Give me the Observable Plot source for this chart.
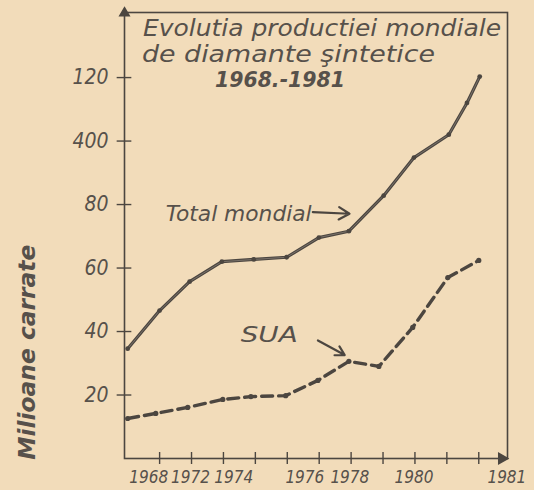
<!DOCTYPE html>
<html><head><meta charset="utf-8">
<script src="https://cdn.jsdelivr.net/npm/d3@7"></script>
<script src="https://cdn.jsdelivr.net/npm/@observablehq/plot@0.6"></script>
<style>
html,body{margin:0;padding:0;background:#f2dcba;}
#chart svg{display:block;background:#f2dcba;}
</style></head><body><div id="chart"></div>
<script>
// Positions along the hand-drawn time axis (1 unit = one tick interval)
const totalPos = [0, 1.0, 1.94, 2.95, 3.95, 4.98, 5.99, 6.93, 8.02, 8.97, 10.06, 10.63, 11.03];
const totalVal = [34.6, 46.6, 55.7, 62.0, 62.7, 63.4, 69.6, 71.6, 82.8, 94.8, 102.0, 112.0, 120.3];
const suaPos = [0, 0.88, 1.88, 2.98, 3.86, 4.95, 5.96, 6.93, 7.87, 8.93, 10.03, 11.0];
const suaVal = [12.6, 14.2, 16.1, 18.6, 19.5, 19.8, 24.6, 30.6, 29.0, 41.3, 57.0, 62.4];

const yTicks = [20, 40, 60, 80, 100, 120];
const yTickLabels = ["20", "40", "60", "80", "400", "120"];
const xTicks = [1, 2, 3, 4, 5, 6, 7, 8, 9, 10, 11];
const yearLabels = ["1968", "1972", "1974", "1976", "1978", "1980", "1981"];
const yearLabelPos = [0.66, 1.97, 3.32, 5.55, 6.96, 8.97, 11.88];

const titleLines = ["Evolutia productiei mondiale", "de diamante şintetice", "1968.-1981"];
const yLabel = "Milioane carrate";
const totalLabel = "Total mondial";
const suaLabel = "SUA";

const ink = "#4c4640";
const textInk = "#57514b";
const font = "'DejaVu Sans', sans-serif";
const condensed = "'DejaVu Sans Condensed', 'DejaVu Sans', sans-serif";

const total = totalPos.map((p, i) => ({pos: p, val: totalVal[i]}));
const sua = suaPos.map((p, i) => ({pos: p, val: suaVal[i]}));

const chart = Plot.plot({
  width: 534,
  height: 490,
  marginLeft: 124,
  marginRight: 27,
  marginTop: 12,
  marginBottom: 32,
  style: {background: "#f2dcba", fontFamily: font},
  x: {domain: [-0.1, 11.9], axis: null},
  y: {domain: [0, 140.5], axis: null},
  marks: [
    Plot.frame({stroke: ink, strokeWidth: 1.6}),
    // axis arrowheads
    Plot.dot([{pos: -0.1, val: 140.3}], {x: "pos", y: "val", symbol: "triangle2", r: 4.5, fill: ink, stroke: ink}),
    Plot.dot([{pos: 11.72, val: 0}], {x: "pos", y: "val", symbol: "triangle2", r: 5, rotate: 90, fill: ink, stroke: ink}),
    // crossing ticks
    Plot.ruleY(yTicks, {y: d => d, x1: -0.33, x2: 0.13, stroke: ink, strokeWidth: 1.4}),
    Plot.ruleX(xTicks, {x: d => d, y1: -1.9, y2: 1.9, stroke: ink, strokeWidth: 1.4}),
    // y tick labels
    Plot.axisY(yTicks, {
      tickSize: 0, tickPadding: 16, tickFormat: d => yTickLabels[yTicks.indexOf(d)],
      fontSize: 21, fontStyle: "italic", fill: textInk, label: null, fontFamily: condensed
    }),
    // x labels
    Plot.text(yearLabels, {
      x: (d, i) => yearLabelPos[i], frameAnchor: "bottom", dy: 24, text: d => d,
      fontSize: 17, fontStyle: "italic", fill: textInk, fontFamily: condensed
    }),
    // y axis label
    Plot.text([yLabel], {
      x: () => -3.13, y: () => 33.5, text: d => d, rotate: -90,
      fontSize: 23, fontStyle: "italic", fontWeight: "bold", fill: textInk, className: "ylab",
      fontFamily: condensed
    }),
    // series
    Plot.line(total, {x: "pos", y: "val", stroke: ink, strokeWidth: 3.2}),
    Plot.line(total, {x: "pos", y: "val", stroke: "#857c73", strokeWidth: 0.8}),
    Plot.dot(total, {x: "pos", y: "val", r: 2.4, fill: ink}),
    Plot.line(sua, {x: "pos", y: "val", stroke: ink, strokeWidth: 3.4, strokeDasharray: "11,6"}),
    Plot.dot(sua, {x: "pos", y: "val", r: 2.6, fill: ink}),
    // annotations
    Plot.text([totalLabel], {
      x: () => 1.19, y: () => 76.8, text: d => d, textAnchor: "start",
      fontSize: 21, fontStyle: "italic", fill: textInk, className: "tlab", fontFamily: condensed
    }),
    Plot.arrow([{x1: 5.8, y1: 77.6, x2: 6.95, y2: 77.1}], {
      x1: "x1", y1: "y1", x2: "x2", y2: "y2", stroke: ink, strokeWidth: 2.2, headLength: 9
    }),
    Plot.text([suaLabel], {
      x: () => 3.54, y: () => 38.7, text: d => d, textAnchor: "start",
      fontSize: 21, fontStyle: "italic", fill: textInk, className: "slab"
    }),
    Plot.arrow([{x1: 5.96, y1: 37.2, x2: 6.8, y2: 32.6}], {
      x1: "x1", y1: "y1", x2: "x2", y2: "y2", stroke: ink, strokeWidth: 2.2, headLength: 9
    })
  ]
});

const svg = d3.select(chart);
// title lines inside the frame
const ttlX = [143, 142, 280];
const ttlY = [29, 55, 81];
const ttlLen = [358, 293, 130];
const ttlAnchor = ["start", "start", "middle"];
const ttlWeight = ["normal", "normal", "bold"];
const ttlSize = [23, 23, 22];
titleLines.forEach((line, i) => {
  svg.append("text")
    .attr("x", ttlX[i]).attr("y", ttlY[i])
    .attr("text-anchor", ttlAnchor[i]).attr("dominant-baseline", "middle")
    .attr("font-size", ttlSize[i]).attr("font-style", "italic").attr("font-weight", ttlWeight[i])
    .attr("fill", textInk).attr("font-family", condensed)
    .attr("textLength", ttlLen[i]).attr("lengthAdjust", "spacingAndGlyphs")
    .text(line);
});
svg.selectAll(".tlab text").attr("textLength", 146).attr("lengthAdjust", "spacingAndGlyphs");
svg.selectAll(".slab text").attr("textLength", 57).attr("lengthAdjust", "spacingAndGlyphs");
svg.selectAll(".ylab text").attr("textLength", 215).attr("lengthAdjust", "spacingAndGlyphs");

document.getElementById("chart").appendChild(chart);
</script></body></html>
